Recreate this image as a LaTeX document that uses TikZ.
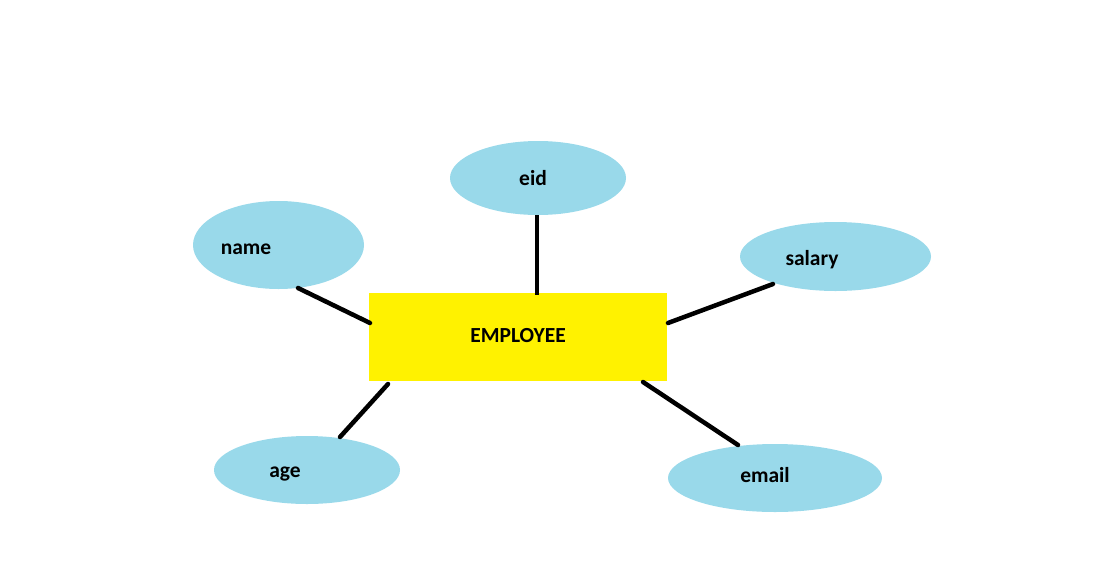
\documentclass[tikz,border=0pt]{standalone}
\usepackage{fontspec}
\setmainfont{Carlito}
\usetikzlibrary{shapes.geometric}
\definecolor{attrblue}{HTML}{99D9EA}
\definecolor{entyellow}{HTML}{FFF200}
\begin{document}
\begin{tikzpicture}[x=1pt,y=-1pt,
  attr/.style={ellipse,fill=attrblue,inner sep=0pt},
  entity/.style={rectangle,fill=entyellow,inner sep=0pt},
  lbl/.style={font=\fontsize{21.5}{24}\selectfont\bfseries,inner sep=0pt,anchor=base},
  link/.style={line width=4.5pt,line cap=round}]
\useasboundingbox (0,0) rectangle (1097,579);

% entity
\node[entity,minimum width=298pt,minimum height=88pt] (emp) at (518,337) {};
\node[lbl] (empL) at (518,342) {EMPLOYEE};

% attributes
\node[attr,minimum width=176pt,minimum height=74pt] (eid) at (538,178) {};
\node[attr,minimum width=171pt,minimum height=88pt] (name) at (278.5,245) {};
\node[attr,minimum width=191pt,minimum height=69pt] (salary) at (835.5,256.5) {};
\node[attr,minimum width=186pt,minimum height=68pt] (age) at (307,470) {};
\node[attr,minimum width=214pt,minimum height=68pt] (email) at (775,478) {};

\node[lbl] (eidL) at (533,185) {eid};
\node[lbl] (nameL) at (246,254) {name};
\node[lbl] (salaryL) at (812,265) {salary};
\node[lbl] (ageL) at (285,477) {age};
\node[lbl] (emailL) at (765,482) {email};

% connector end points
\coordinate (eidA) at (537,215);   \coordinate (eidB) at (537,295);
\coordinate (nameA) at (298,288);  \coordinate (nameB) at (370,323);
\coordinate (salA) at (773,284);   \coordinate (salB) at (668,323);
\coordinate (ageA) at (340,437);   \coordinate (ageB) at (388,384);
\coordinate (emA) at (738,445);    \coordinate (emB) at (643,382);

\draw[link,line cap=butt] (eidA) -- (eidB);
\draw[link] (nameA) -- (nameB);
\draw[link] (salA) -- (salB);
\draw[link] (ageA) -- (ageB);
\draw[link] (emA) -- (emB);
\end{tikzpicture}
\end{document}
